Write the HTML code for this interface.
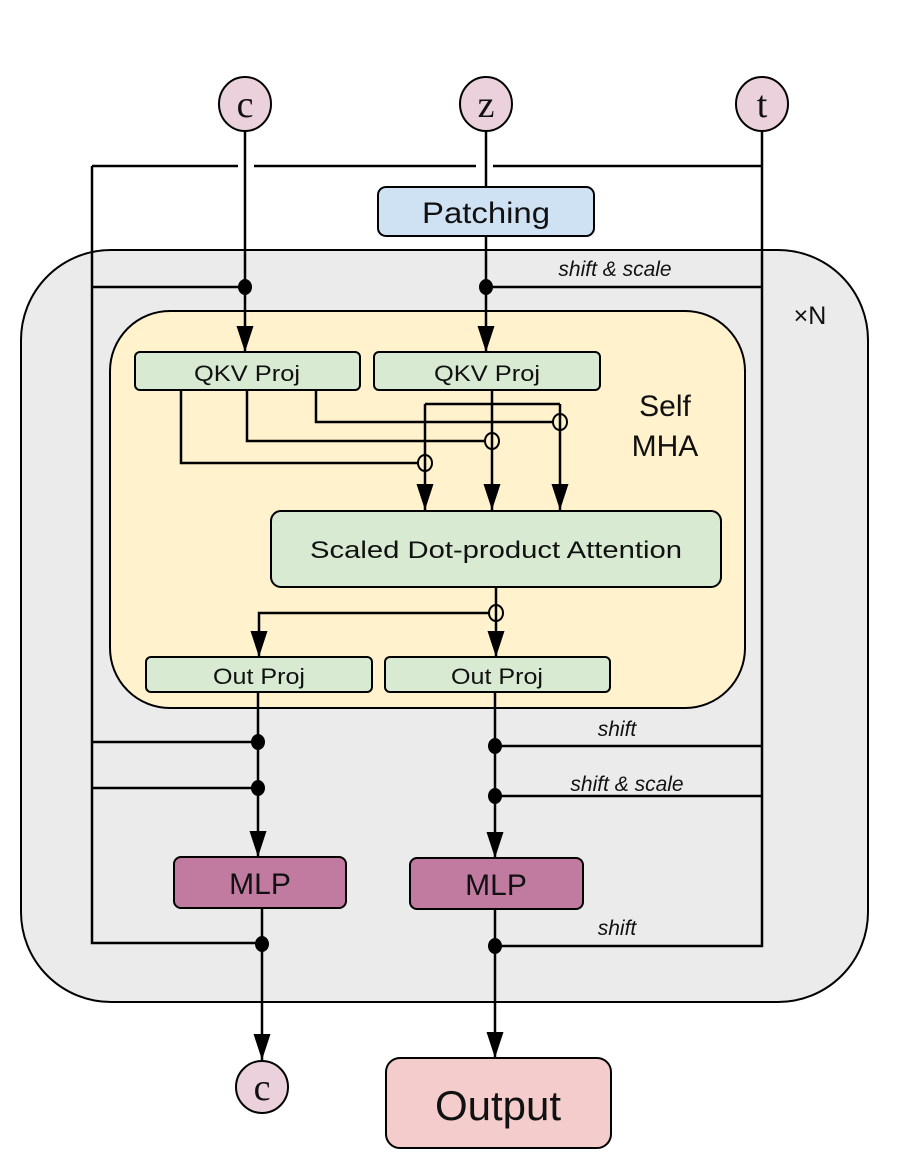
<!DOCTYPE html>
<html><head><meta charset="utf-8"><style>
html,body{margin:0;padding:0;background:#fff}
svg{display:block}
text{font-family:"Liberation Sans",sans-serif;fill:#111}
</style></head><body>
<svg width="909" height="1174" viewBox="0 0 909 1174" xmlns="http://www.w3.org/2000/svg">
<defs>
<marker id="b" viewBox="0 0 10 10" refX="10" refY="5" markerWidth="26" markerHeight="17" markerUnits="userSpaceOnUse" orient="auto" preserveAspectRatio="none"><path d="M0,0L10,5L0,10z" fill="#000"/></marker>
</defs>
<rect x="21" y="250" width="847" height="752" rx="90" fill="#ebebeb" stroke="#000" stroke-width="2"/>
<g stroke="#000" stroke-width="2.5" fill="none">
<path d="M92,166H238M254,166H476M493,166H762"/>
<path d="M92,166V943H262"/>
<path d="M762,128V946H495"/>
<path d="M92,287H245M486,287H762"/>
<path d="M92,742H258M92,788H258"/>
<path d="M495,746H762M495,796H762"/>
</g>
<rect x="378" y="187" width="216" height="49" rx="8" fill="#cfe2f3" stroke="#000" stroke-width="2"/>
<text x="486" y="223" font-size="30" text-anchor="middle" textLength="128" lengthAdjust="spacingAndGlyphs">Patching</text>
<rect x="110" y="311" width="635" height="397" rx="60" fill="#fff2cc" stroke="#000" stroke-width="2"/>
<text x="665" y="416" font-size="30" text-anchor="middle">Self</text>
<text x="665" y="456" font-size="30" text-anchor="middle">MHA</text>
<text x="810" y="324" font-size="25" text-anchor="middle">×N</text>
<text x="615" y="276" font-size="21" font-style="italic" text-anchor="middle">shift &amp; scale</text>
<text x="617" y="736" font-size="21" font-style="italic" text-anchor="middle">shift</text>
<text x="627" y="791" font-size="21" font-style="italic" text-anchor="middle">shift &amp; scale</text>
<text x="617" y="935" font-size="21" font-style="italic" text-anchor="middle">shift</text>
<g stroke="#000" stroke-width="2.5" fill="none">
<path d="M245,131V352" marker-end="url(#b)"/>
<path d="M486,131V187"/>
<path d="M486,236V352" marker-end="url(#b)"/>
<path d="M181,390V463H418"/>
<path d="M247,390V441H485"/>
<path d="M316,390V422H553"/>
<path d="M425,404H560"/>
<path d="M425,404V510" marker-end="url(#b)"/>
<path d="M492,390V510" marker-end="url(#b)"/>
<path d="M560,404V510" marker-end="url(#b)"/>
<path d="M496,587V657" marker-end="url(#b)"/>
<path d="M489,613H259V657" marker-end="url(#b)"/>
<path d="M258,692V857" marker-end="url(#b)"/>
<path d="M495,692V858" marker-end="url(#b)"/>
<path d="M262,908V1060" marker-end="url(#b)"/>
<path d="M495,909V1058" marker-end="url(#b)"/>
</g>
<g stroke="#000" stroke-width="2" fill="none">
<ellipse cx="425" cy="463" rx="7" ry="8"/>
<ellipse cx="492" cy="441" rx="7" ry="8"/>
<ellipse cx="560" cy="422" rx="7" ry="8"/>
<ellipse cx="496" cy="613" rx="7" ry="8"/>
</g>
<g fill="#000">
<ellipse cx="245" cy="287" rx="7" ry="8"/>
<ellipse cx="486" cy="287" rx="7" ry="8"/>
<ellipse cx="258" cy="742" rx="7" ry="8"/>
<ellipse cx="258" cy="788" rx="7" ry="8"/>
<ellipse cx="495" cy="746" rx="7" ry="8"/>
<ellipse cx="495" cy="796" rx="7" ry="8"/>
<ellipse cx="262" cy="944" rx="7" ry="8"/>
<ellipse cx="495" cy="946" rx="7" ry="8"/>
</g>
<g fill="#d9ead3" stroke="#000" stroke-width="2">
<rect x="135" y="352" width="225" height="38" rx="5"/>
<rect x="374" y="352" width="226" height="38" rx="5"/>
<rect x="271" y="511" width="450" height="76" rx="10"/>
<rect x="146" y="657" width="226" height="35" rx="5"/>
<rect x="385" y="657" width="225" height="35" rx="5"/>
</g>
<text x="247" y="381" font-size="22" text-anchor="middle" textLength="106" lengthAdjust="spacingAndGlyphs">QKV Proj</text>
<text x="487" y="381" font-size="22" text-anchor="middle" textLength="106" lengthAdjust="spacingAndGlyphs">QKV Proj</text>
<text x="496" y="558" font-size="24" text-anchor="middle" textLength="372" lengthAdjust="spacingAndGlyphs">Scaled Dot-product Attention</text>
<text x="259" y="684" font-size="22" text-anchor="middle" textLength="92" lengthAdjust="spacingAndGlyphs">Out Proj</text>
<text x="497" y="684" font-size="22" text-anchor="middle" textLength="92" lengthAdjust="spacingAndGlyphs">Out Proj</text>
<g fill="#c27ba0" stroke="#000" stroke-width="2">
<rect x="174" y="857" width="172" height="51" rx="7"/>
<rect x="410" y="858" width="173" height="51" rx="7"/>
</g>
<text x="260" y="894" font-size="30" text-anchor="middle">MLP</text>
<text x="496" y="895" font-size="30" text-anchor="middle">MLP</text>
<rect x="386" y="1058" width="225" height="90" rx="14" fill="#f4cccc" stroke="#000" stroke-width="2"/>
<text x="498" y="1120" font-size="42" text-anchor="middle">Output</text>
<g fill="#ead1dc" stroke="#000" stroke-width="2">
<ellipse cx="245" cy="104" rx="26" ry="27"/>
<ellipse cx="486" cy="104" rx="26" ry="27"/>
<ellipse cx="762" cy="104" rx="26" ry="27"/>
<ellipse cx="262" cy="1087" rx="26" ry="26"/>
</g>
<g font-size="38" text-anchor="middle">
<text x="245" y="117" style="font-family:'Liberation Serif',serif">c</text>
<text x="486" y="117" style="font-family:'Liberation Serif',serif">z</text>
<text x="762" y="117" style="font-family:'Liberation Serif',serif">t</text>
<text x="262" y="1100" style="font-family:'Liberation Serif',serif">c</text>
</g>
</svg>
</body></html>
